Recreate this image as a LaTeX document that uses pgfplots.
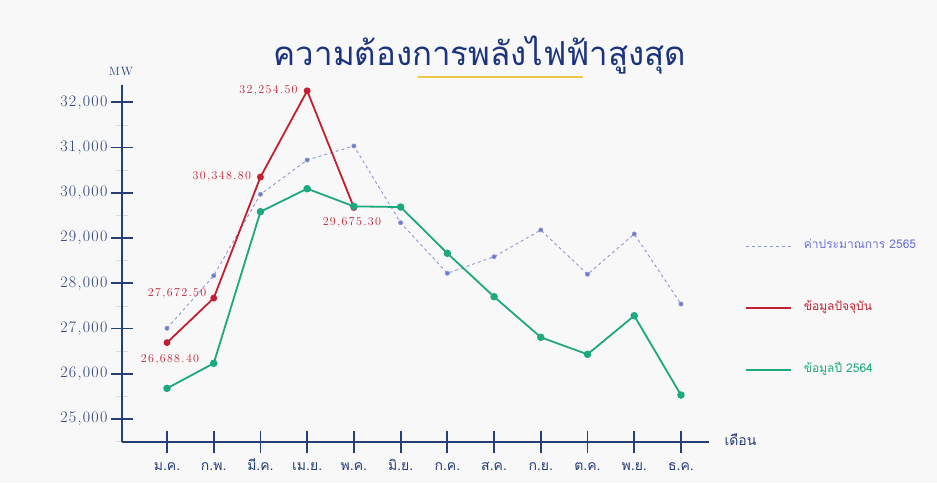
\documentclass[border=0pt]{standalone}
\usepackage{fontspec}
\usepackage{pgfplots}
\pgfplotsset{compat=1.18}
\setmainfont{Latin Modern Roman}
\newfontfamily\numfont{Latin Modern Roman}[LetterSpace=8]
\newfontfamily\lblfont{Latin Modern Roman}[LetterSpace=11]
\newfontfamily\thai[Script=Thai]{Loma}
\newfontfamily\titlefont[Script=Thai]{Loma}
\definecolor{navy}{RGB}{38,62,118}
\definecolor{titleblue}{RGB}{28,52,128}
\definecolor{cred}{RGB}{192,32,48}
\definecolor{cgreen}{RGB}{30,168,125}
\definecolor{cblue}{RGB}{105,115,215}
\definecolor{cbluel}{RGB}{140,150,205}
\definecolor{bg}{RGB}{248,248,249}
\definecolor{cyellow}{RGB}{236,200,70}
\begin{document}
\begin{tikzpicture}[x=1pt,y=1pt]
\fill[bg] (0,0) rectangle (937,483);
\begin{axis}[
  at={(122pt,41pt)}, anchor=south west,
  scale only axis, width=587pt, height=357pt,
  xmin=-0.963, xmax=11.6, ymin=24492, ymax=32383,
  axis x line=bottom, axis y line=left,
  axis line style={navy, line width=1.9pt, -},
  xtick={0,...,11},
  xticklabels={ม.ค.,ก.พ.,มี.ค.,เม.ย.,พ.ค.,มิ.ย.,ก.ค.,ส.ค.,ก.ย.,ต.ค.,พ.ย.,ธ.ค.},
  xticklabel style={font=\thai\fontsize{14}{14}\selectfont, text=navy, yshift=-7pt,
    text height=7pt, text depth=2pt},
  ytick={25000,26000,...,32000},
  minor ytick={24500,25500,...,31500},
  yticklabel style={font=\numfont\fontsize{16}{16}\selectfont, text=navy},
  /pgf/number format/assume math mode=true,
  /pgf/number format/1000 sep={,},
  scaled y ticks=false,
  tick align=center,
  major tick length=22pt, minor tick length=12pt,
  major tick style={navy, line width=1.8pt},
  minor tick style={black!15, line width=0.8pt},
  clip=false,
  legend style={at={(axis description cs:1.056,0.375)}, anchor=west, draw=none, fill=none,
    font=\thai\fontsize{12}{12}\selectfont, row sep=51pt, column sep=12pt,
    nodes={inner sep=0pt, text height=8pt, text depth=3pt}},
  legend cell align=left,
  legend image code/.code={\draw[#1] (0pt,0pt) -- (45pt,0pt);},
]
\addplot[cbluel, line width=0.9pt, dash pattern=on 3pt off 3pt, mark=*, mark size=2pt,
  mark options={solid, fill=cblue, draw=none}] coordinates {
  (0,27005) (1,28168) (2,29967) (3,30725) (4,31035) (5,29339)
  (6,28221) (7,28588) (8,29178) (9,28199) (10,29089) (11,27542)};
\addlegendentry{\textcolor{cblue}{ค่าประมาณการ 2565}}
\addplot[cred, line width=1.8pt, mark=*, mark size=2.5pt] coordinates {
  (0,26688.4) (1,27672.5) (2,30348.8) (3,32254.5) (4,29675.3)};
\addlegendentry{\textcolor{cred}{ข้อมูลปัจจุบัน}}
\addplot[cgreen, line width=1.8pt, mark=*, mark size=2.8pt] coordinates {
  (0,25678) (1,26231) (2,29582) (3,30091) (4,29700) (5,29686)
  (6,28663) (7,27703) (8,26806) (9,26430) (10,27283) (11,25530)};
\addlegendentry{\textcolor{cgreen}{ข้อมูลปี 2564}}
\begin{scope}[font=\lblfont\fontsize{12}{12}\selectfont, text=cred]
\node[anchor=east] at ([xshift=-6pt]axis cs:3,32254.5) {32,254.50};
\node[anchor=east] at ([xshift=-6pt]axis cs:2,30348.8) {30,348.80};
\node[anchor=north] at ([xshift=-2pt,yshift=-6pt]axis cs:4,29675.3) {29,675.30};
\node[anchor=east] at ([xshift=-4pt,yshift=5pt]axis cs:1,27672.5) {27,672.50};
\node[anchor=north] at ([xshift=3pt,yshift=-8pt]axis cs:0,26688.4) {26,688.40};
\end{scope}
\end{axis}
\node[font=\titlefont\fontsize{33}{33}\selectfont, text=titleblue] at (480,428) {ความต้องการพลังไฟฟ้าสูงสุด};
\draw[cyellow, line width=2pt] (418,406) -- (583,406);
\node[font=\numfont\fontsize{12}{12}\selectfont, text=navy] at (121,411) {MW};
\node[font=\thai\fontsize{14}{14}\selectfont, text=navy, anchor=west] at (721,43) {เดือน};
\end{tikzpicture}
\end{document}
